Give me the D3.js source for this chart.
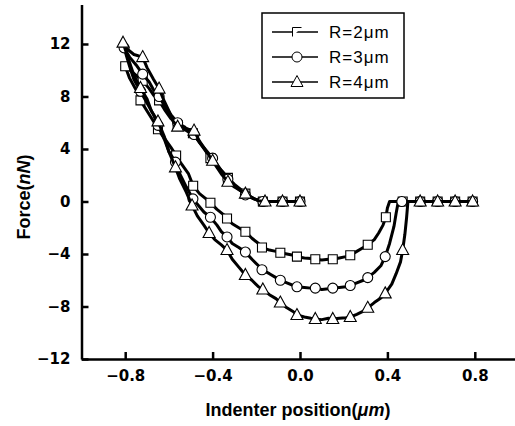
<!DOCTYPE html>
<html>
<head>
<meta charset="utf-8">
<script src="https://cdn.jsdelivr.net/npm/d3@7"></script>
<style>
  body { margin: 0; background: #fff; }
  svg { display: block; font-family: "Liberation Sans", Arial, sans-serif; }
</style>
</head>
<body>
<div id="chart"></div>
<script>
// [x (um), force (nN), 1 = marker drawn here]
const r2Upper = [[-0.80,10.3,1],[-0.77,9.9],[-0.75,9.6],[-0.72,9.2,1],[-0.69,8.6],[-0.67,8.1],[-0.645,7.7,1],[-0.62,7.0],[-0.59,6.3],[-0.56,5.8,1],[-0.53,5.5],[-0.51,5.3],[-0.49,5.2,1],[-0.46,4.5],[-0.43,3.8],[-0.41,3.3,1],[-0.38,2.7],[-0.35,2.2],[-0.33,1.8,1],[-0.30,1.3],[-0.27,0.9],[-0.25,0.6,1],[-0.21,0.2],[-0.17,0,1],[-0.12,0],[-0.08,0,1],[-0.04,0],[0,0,1]];
const r2Lower = [[-0.80,10.3],[-0.78,9.4],[-0.75,8.5],[-0.73,7.7,1],[-0.70,6.9],[-0.67,6.1],[-0.65,5.5,1],[-0.62,4.8],[-0.59,4.1],[-0.567,3.5,1],[-0.54,2.8],[-0.51,2.1],[-0.489,1.2,1],[-0.46,0.6],[-0.43,0.2],[-0.41,-0.1,1],[-0.38,-0.6],[-0.35,-1.0],[-0.334,-1.3,1],[-0.31,-1.7],[-0.28,-2.0],[-0.25,-2.3,1],[-0.22,-2.8],[-0.19,-3.2],[-0.174,-3.5,1],[-0.14,-3.7],[-0.11,-3.8],[-0.09,-3.9,1],[-0.06,-4.0],[-0.03,-4.1],[-0.014,-4.2,1],[0.02,-4.3],[0.05,-4.35],[0.07,-4.4,1],[0.10,-4.45],[0.13,-4.4],[0.15,-4.4,1],[0.18,-4.3],[0.21,-4.2],[0.23,-4.1,1],[0.26,-3.8],[0.29,-3.5],[0.31,-3.3,1],[0.34,-2.9],[0.36,-2.4],[0.38,-1.8],[0.393,-1.2,1],[0.40,-0.5],[0.41,0],[0.44,0],[0.47,0,1],[0.51,0],[0.55,0,1],[0.59,0],[0.63,0,1],[0.67,0],[0.71,0,1],[0.75,0],[0.79,0,1]];

const r3Upper = [[-0.805,11.7,1],[-0.78,11.0],[-0.75,10.4],[-0.72,9.7,1],[-0.69,9.1],[-0.67,8.5],[-0.645,8.0,1],[-0.62,7.3],[-0.59,6.6],[-0.56,6.0,1],[-0.53,5.7],[-0.51,5.4],[-0.485,5.1,1],[-0.46,4.5],[-0.43,3.9],[-0.40,3.3,1],[-0.37,2.6],[-0.35,2.1],[-0.33,1.7,1],[-0.30,1.2],[-0.27,0.8],[-0.25,0.5,1],[-0.21,0.2],[-0.17,0,1],[-0.12,0],[-0.08,0,1],[-0.04,0],[0,0,1]];
const r3Lower = [[-0.805,11.7],[-0.78,10.3],[-0.76,9.3],[-0.73,8.4,1],[-0.70,7.5],[-0.67,6.6],[-0.65,5.8,1],[-0.62,4.7],[-0.60,3.8],[-0.57,3.0,1],[-0.55,2.1],[-0.52,1.1],[-0.49,0.2,1],[-0.46,-0.4],[-0.44,-0.8],[-0.41,-1.2,1],[-0.38,-1.8],[-0.36,-2.3],[-0.334,-2.7,1],[-0.31,-3.2],[-0.28,-3.5],[-0.25,-3.85,1],[-0.22,-4.4],[-0.19,-4.9],[-0.174,-5.2,1],[-0.14,-5.5],[-0.11,-5.8],[-0.09,-6.0,1],[-0.06,-6.2],[-0.03,-6.4],[-0.014,-6.5,1],[0.02,-6.55],[0.05,-6.6],[0.07,-6.6,1],[0.10,-6.7],[0.13,-6.65],[0.15,-6.6,1],[0.18,-6.55],[0.21,-6.5],[0.23,-6.4,1],[0.26,-6.2],[0.29,-6.0],[0.31,-5.8,1],[0.34,-5.4],[0.37,-4.9],[0.39,-4.2,1],[0.41,-3.2],[0.43,-1.9],[0.44,-0.9],[0.45,0],[0.466,0,1],[0.51,0],[0.55,0,1],[0.59,0],[0.63,0,1],[0.67,0],[0.71,0,1],[0.75,0],[0.79,0,1]];

const r4Upper = [[-0.81,12.1,1],[-0.79,11.6],[-0.76,11.2],[-0.72,11.0,1],[-0.70,10.2],[-0.67,9.3],[-0.645,8.6,1],[-0.62,7.6],[-0.60,6.9],[-0.58,6.1],[-0.56,5.7,1],[-0.53,5.6],[-0.51,5.5],[-0.485,5.4,1],[-0.46,4.6],[-0.44,4.1],[-0.42,3.6],[-0.40,3.1,1],[-0.38,2.6],[-0.36,2.1],[-0.33,1.5,1],[-0.30,1.1],[-0.27,0.8],[-0.25,0.6,1],[-0.22,0.3],[-0.19,0.05],[-0.16,0,1],[-0.12,0],[-0.08,0,1],[-0.04,0],[0,0,1]];
const r4Lower = [[-0.81,12.1],[-0.78,10.6],[-0.76,9.6],[-0.73,8.65,1],[-0.70,7.8],[-0.68,6.9],[-0.65,6.1,1],[-0.62,4.9],[-0.60,3.8],[-0.57,2.6,1],[-0.55,1.7],[-0.52,0.7],[-0.494,-0.3,1],[-0.47,-1.1],[-0.44,-1.8],[-0.416,-2.4,1],[-0.39,-2.9],[-0.36,-3.3],[-0.334,-3.7,1],[-0.31,-4.4],[-0.28,-5.0],[-0.25,-5.6,1],[-0.22,-6.0],[-0.19,-6.5],[-0.17,-6.7,1],[-0.14,-7.1],[-0.11,-7.4],[-0.09,-7.7,1],[-0.06,-8.1],[-0.03,-8.4],[-0.014,-8.65,1],[0.02,-8.8],[0.05,-8.9],[0.07,-8.95,1],[0.10,-9.0],[0.13,-8.9],[0.15,-8.95,1],[0.18,-8.9],[0.21,-8.85],[0.23,-8.8,1],[0.26,-8.6],[0.29,-8.35],[0.31,-8.1,1],[0.34,-7.7],[0.37,-7.35],[0.39,-7.0,1],[0.42,-6.3],[0.44,-5.5],[0.46,-4.6],[0.47,-3.7,1],[0.48,-2.5],[0.488,-1.2],[0.494,0],[0.55,0,1],[0.59,0],[0.63,0,1],[0.67,0],[0.71,0,1],[0.75,0],[0.79,0,1]];

const seriesNames = ['R=2\u03bcm', 'R=3\u03bcm', 'R=4\u03bcm'];
const seriesShapes = ['square', 'circle', 'triangle'];
const xTicks = [-0.8, -0.4, 0.0, 0.4, 0.8];
const yTicks = [-12, -8, -4, 0, 4, 8, 12];

const width = 515, height = 426;
const svg = d3.select('#chart').append('svg')
    .attr('width', width).attr('height', height);

const x = d3.scaleLinear().domain([-1, 1]).range([81.5, 518.5]);
const y = d3.scaleLinear().domain([-12, 15]).range([359, 4.6]);

function shapePath(shape) {
    if (shape === 'square') return 'M-4.5,-4.5H4.5V4.5H-4.5Z';
    if (shape === 'circle') return 'M5,0A5,5 0 1,1 -5,0A5,5 0 1,1 5,0Z';
    return 'M0,-6.5L6,4.5H-6Z';
}

const line = d3.line().x(d => x(d[0])).y(d => y(d[1]));

const series = [
    [r2Upper, r2Lower],
    [r3Upper, r3Lower],
    [r4Upper, r4Lower]
];

series.forEach(function (branches, i) {
    const g = svg.append('g');
    branches.forEach(function (pts) {
        g.append('path')
            .attr('d', line(pts))
            .attr('fill', 'none')
            .attr('stroke', '#000')
            .attr('stroke-width', 3)
            .attr('stroke-linejoin', 'round');
    });
    branches.forEach(function (pts) {
        g.selectAll(null)
            .data(pts.filter(d => d[2]))
            .enter()
            .append('path')
            .attr('transform', d => 'translate(' + x(d[0]) + ',' + y(d[1]) + ')')
            .attr('d', shapePath(seriesShapes[i]))
            .attr('fill', '#fff')
            .attr('stroke', '#000')
            .attr('stroke-width', 1.1);
    });
});

// axes
const xAxis = d3.axisBottom(x).tickValues(xTicks).tickSizeInner(-7).tickSizeOuter(0)
    .tickPadding(11).tickFormat(d3.format('.1f'));
const yAxis = d3.axisLeft(y).tickValues(yTicks).tickSizeInner(-7).tickSizeOuter(0)
    .tickPadding(11).tickFormat(d3.format('d'));

const gx = svg.append('g').attr('transform', 'translate(0,359)').call(xAxis);
const gy = svg.append('g').attr('transform', 'translate(81.5,0)').call(yAxis);

[gx, gy].forEach(function (g) {
    g.select('.domain').attr('stroke', '#000').attr('stroke-width', 2.5);
    g.selectAll('.tick line').attr('stroke', '#000').attr('stroke-width', 2.5);
    g.selectAll('.tick text')
        .attr('fill', '#000')
        .style('font-size', '15px')
        .style('font-weight', 'bold')
        .style('font-family', '"DejaVu Sans", sans-serif');
});

// axis titles
svg.append('text')
    .attr('x', 298).attr('y', 416)
    .attr('text-anchor', 'middle')
    .style('font-size', '18px').style('font-weight', 'bold')
    .html('Indenter position(<tspan font-style="italic">\u03bcm</tspan>)');

svg.append('text')
    .attr('transform', 'translate(30,197) rotate(-90)')
    .attr('text-anchor', 'middle')
    .style('font-size', '18px').style('font-weight', 'bold')
    .html('Force(<tspan font-style="italic">nN</tspan>)');

// legend
const legend = svg.append('g');
legend.append('rect')
    .attr('x', 262).attr('y', 13).attr('width', 142).attr('height', 85)
    .attr('fill', '#fff').attr('stroke', '#000').attr('stroke-width', 1.5);

seriesNames.forEach(function (name, i) {
    const ly = 32 + i * 25;
    legend.append('line')
        .attr('x1', 272).attr('x2', 318).attr('y1', ly).attr('y2', ly)
        .attr('stroke', '#000').attr('stroke-width', 1.5);
    legend.append('path')
        .attr('transform', 'translate(297,' + ly + ')')
        .attr('d', seriesShapes[i] === 'square' ? 'M-4.5,4.5V-4.5H4.5' : shapePath(seriesShapes[i]))
        .attr('fill', '#fff').attr('stroke', '#000').attr('stroke-width', 1);
    legend.append('text')
        .attr('x', 329).attr('y', ly + 6)
        .style('font-size', '17px')
        .style('letter-spacing', '1px')
        .text(name);
});
</script>
</body>
</html>
